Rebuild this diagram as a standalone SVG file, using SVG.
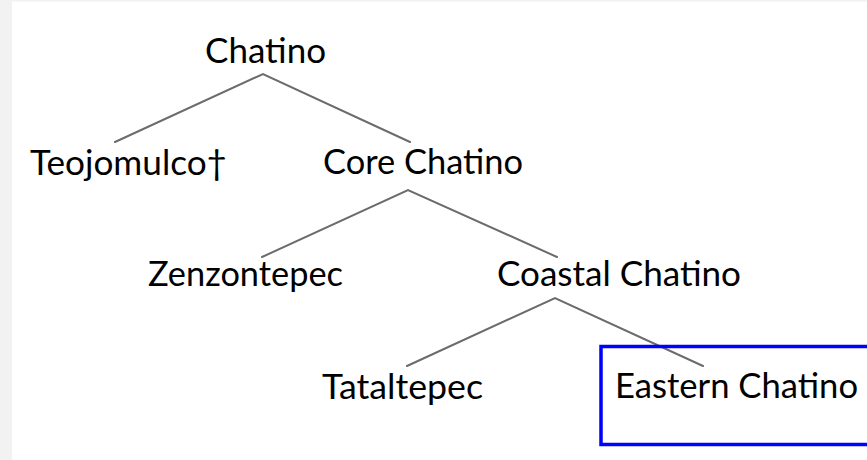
<svg xmlns="http://www.w3.org/2000/svg" width="867" height="460" viewBox="0 0 867 460">
  <style>
    .lbl { font-family: Lato, "Open Sans", "Liberation Sans", sans-serif; font-size: 35px; fill: #000; }
    .edge { stroke: #6b6b6b; stroke-width: 2; fill: none; stroke-linecap: round; stroke-linejoin: miter; }
    .hl { fill: none; stroke: #0000ff; stroke-width: 3.5; }
  </style>
  <!-- page background with side margin -->
  <rect x="0" y="0" width="867" height="460" fill="#ffffff"/>
  <rect x="0" y="0" width="12" height="460" fill="#f2f2f2"/>
  <rect x="0" y="0" width="867" height="1.5" fill="#f2f2f2"/>

  <g id="connectors">
    <polyline class="edge" points="115,142 263,74 410,142"/>
    <polyline class="edge" points="262,257 408,190 557,257"/>
    <polyline class="edge" points="407,366 555,298 703,366"/>
  </g>

  <g id="chatino">
    <text class="lbl" x="205" y="63" textLength="121" lengthAdjust="spacingAndGlyphs">Chatino</text>
  </g>
  <g id="teojomulco">
    <text class="lbl" x="30" y="175" textLength="197" lengthAdjust="spacingAndGlyphs">Teojomulco†</text>
  </g>
  <g id="core-chatino">
    <text class="lbl" x="323" y="174" textLength="200" lengthAdjust="spacingAndGlyphs">Core Chatino</text>
  </g>
  <g id="zenzontepec">
    <text class="lbl" x="148" y="286" textLength="195" lengthAdjust="spacingAndGlyphs">Zenzontepec</text>
  </g>
  <g id="coastal-chatino">
    <text class="lbl" x="497" y="286" textLength="244" lengthAdjust="spacingAndGlyphs">Coastal Chatino</text>
  </g>
  <g id="tataltepec">
    <text class="lbl" x="322" y="399" textLength="161" lengthAdjust="spacingAndGlyphs">Tataltepec</text>
  </g>
  <g id="eastern-chatino">
    <rect class="hl" x="601" y="346.5" width="300" height="98"/>
    <text class="lbl" x="615" y="398" textLength="243" lengthAdjust="spacingAndGlyphs">Eastern Chatino</text>
  </g>
</svg>
